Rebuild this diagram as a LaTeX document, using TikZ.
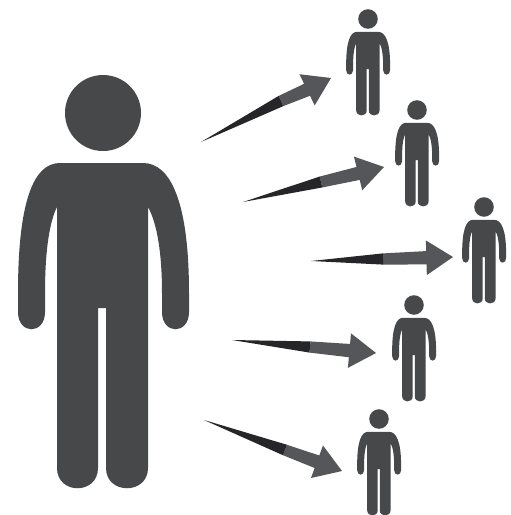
\documentclass[tikz,border=0pt]{standalone}
\usetikzlibrary{calc}
\definecolor{figgray}{HTML}{46484A}
\definecolor{taildark}{HTML}{262628}
\definecolor{headgray}{HTML}{55565A}
% person outline, drawn in pixel units relative to head centre (y downwards)
\tikzset{
  person/.pic={
    \fill[figgray] (0,0) circle[radius=38];
    \fill[figgray]
      (-43,50) -- (40,50)
      .. controls (68,50) and (86,90) .. (86,180)
      -- (86,199) .. controls (86,222) and (59,222) .. (59,199) -- (59,180)
      .. controls (59,140) and (54,110) .. (45,94)
      -- (45,355) .. controls (45,382) and (3,382) .. (3,355)
      -- (3,195) -- (-5,195) -- (-5,355)
      .. controls (-5,382) and (-46,382) .. (-46,355)
      -- (-46,94)
      .. controls (-54,110) and (-58,140) .. (-58,180) -- (-58,199)
      .. controls (-58,222) and (-85,222) .. (-85,199)
      -- (-85,180)
      .. controls (-85,90) and (-70,50) .. (-43,50) -- cycle;
  },
  px/.style={x=0.75pt,y=-0.75pt}
}
\begin{document}
\begin{tikzpicture}[px]
\useasboundingbox (0,0) rectangle (511,515);
\fill[white] (0,0) rectangle (511,515);
\coordinate (bighead) at (103,113);
\pic at (bighead) {person};
\foreach \nm/\x/\y in {p1/368/19,p2/417/110,p3/484/207,p4/414/305,p5/379/419}{
  \pic[scale=0.257] (\nm) at (\x,\y) {person};
}
\foreach \s/\sx/\sy/\t/\tx/\ty/\j/\jx/\jy in {
  a1/201/142/b1/331/78/c1/281/101,
  a2/243/202/b2/384/167/c2/321/182,
  a3/311/261/b3/453/257/c3/383/259,
  a4/232/340/b4/376/353/c4/310/347,
  a5/204/420/b5/342/471/c5/285/450}{
  \coordinate (\s) at (\sx,\sy);
  \coordinate (\t) at (\tx,\ty);
  \coordinate (\j) at (\jx,\jy);
  \coordinate (base) at ($(\t)!20pt!(\s)$);
  \fill[headgray]
    ($(\j)!4.2pt!90:(\t)$) -- ($(base)!5pt!90:(\t)$) -- ($(base)!13pt!90:(\t)$) --
    (\t) -- ($(base)!13pt!-90:(\t)$) -- ($(base)!5pt!-90:(\t)$) --
    ($(\j)!4.2pt!-90:(\t)$) -- cycle;
  \fill[taildark] (\s) -- ($(\j)!4.2pt!90:(\t)$) -- ($(\j)!4.2pt!-90:(\t)$) -- cycle;
}
\end{tikzpicture}
\end{document}
